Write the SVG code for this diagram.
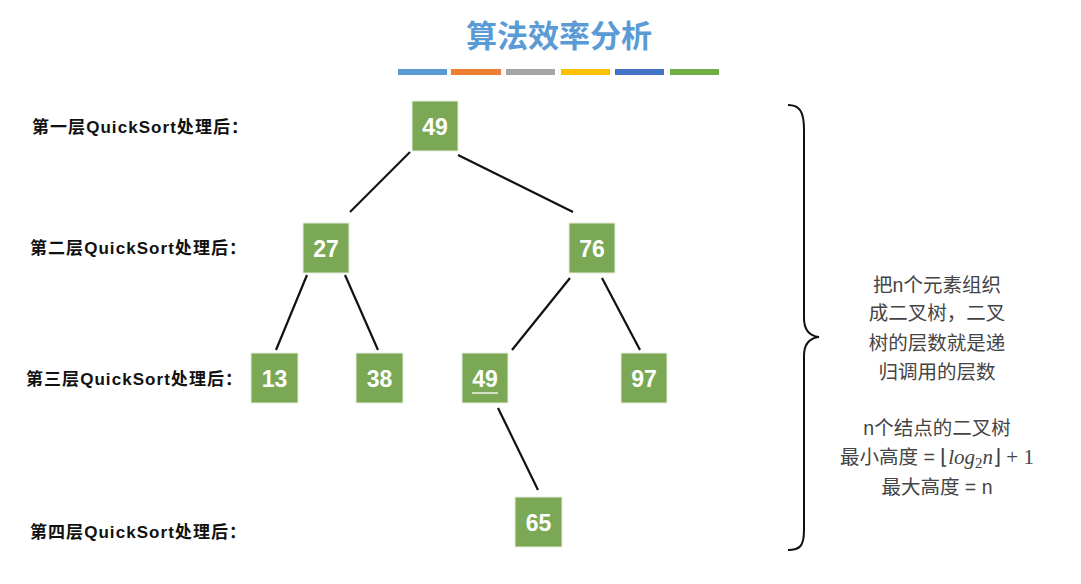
<svg xmlns="http://www.w3.org/2000/svg" width="1081" height="584" viewBox="0 0 1081 584">
<style>
.node rect{fill:#7BA854;stroke:#E6EEDD;stroke-width:1}
.node text{fill:#fff;font-family:"Liberation Sans","Noto Sans CJK SC",sans-serif;font-size:23px;font-weight:bold;text-anchor:middle}
.lvl{font-family:"Liberation Sans","Noto Sans CJK SC",sans-serif;font-size:17px;font-weight:bold;fill:#111}
.note{font-family:"Liberation Sans","Noto Sans CJK SC",sans-serif;font-size:19.5px;fill:#444;text-anchor:middle}
.edge{stroke:#111;stroke-width:2.2;fill:none}
</style>
<rect width="1081" height="584" fill="#fff"/>
<text x="559" y="47" font-family="'Noto Sans CJK SC',sans-serif" font-size="31" font-weight="bold" fill="#5B9BD5" text-anchor="middle">算法效率分析</text>
<g id="bars">
<rect x="398" y="69" width="49" height="6" fill="#5B9BD5"/>
<rect x="451" y="69" width="50" height="6" fill="#ED7D31"/>
<rect x="506" y="69" width="49" height="6" fill="#A5A5A5"/>
<rect x="561" y="69" width="49" height="6" fill="#FFC000"/>
<rect x="615" y="69" width="49" height="6" fill="#4472C4"/>
<rect x="670" y="69" width="49" height="6" fill="#70AD47"/>
</g>
<g id="labels">
<text class="lvl" x="32" y="133" textLength="216" lengthAdjust="spacing">第一层QuickSort处理后：</text>
<text class="lvl" x="30" y="254" textLength="216" lengthAdjust="spacing">第二层QuickSort处理后：</text>
<text class="lvl" x="26" y="385" textLength="216" lengthAdjust="spacing">第三层QuickSort处理后：</text>
<text class="lvl" x="30" y="538" textLength="216" lengthAdjust="spacing">第四层QuickSort处理后：</text>
</g>
<g id="connectors">
<line class="edge" x1="410" y1="152" x2="350" y2="212"/>
<line class="edge" x1="458" y1="155" x2="573" y2="212"/>
<line class="edge" x1="307" y1="275" x2="276" y2="350"/>
<line class="edge" x1="345" y1="275" x2="378" y2="350"/>
<line class="edge" x1="570" y1="278" x2="512" y2="350"/>
<line class="edge" x1="602" y1="278" x2="640" y2="350"/>
<line class="edge" x1="498" y1="408" x2="538" y2="490"/>
</g>
<g id="n49a" class="node"><rect x="412" y="101" width="46" height="50"/><text x="435" y="134.5">49</text></g>
<g id="n27" class="node"><rect x="303" y="223" width="46" height="50"/><text x="326" y="256.5">27</text></g>
<g id="n76" class="node"><rect x="569" y="223" width="46" height="50"/><text x="592" y="256.5">76</text></g>
<g id="n13" class="node"><rect x="251" y="353" width="47" height="50"/><text x="274.5" y="386.5">13</text></g>
<g id="n38" class="node"><rect x="356" y="353" width="47" height="50"/><text x="379.5" y="386.5">38</text></g>
<g id="n49b" class="node"><rect x="462" y="353" width="46" height="50"/><text x="485" y="386.5">49</text><line x1="472" y1="393" x2="498" y2="393" stroke="#fff" stroke-width="1.3"/></g>
<g id="n97" class="node"><rect x="621" y="353" width="46" height="50"/><text x="644" y="386.5">97</text></g>
<g id="n65" class="node"><rect x="515" y="497" width="47" height="50"/><text x="538.5" y="530.5">65</text></g>
<g id="brace">
<path d="M788,105 C800,105 804,112 804,130 L804,318 C804,330 810,336 819,337 C810,338 804,344 804,356 L804,530 C804,546 800,550 788,550" fill="none" stroke="#111" stroke-width="2"/>
</g>
<g id="notes">
<text class="note" x="937" y="292">把n个元素组织</text>
<text class="note" x="937" y="320">成二叉树，二叉</text>
<text class="note" x="937" y="350">树的层数就是递</text>
<text class="note" x="937" y="379">归调用的层数</text>
<text class="note" x="937" y="435">n个结点的二叉树</text>
<text class="note" x="937" y="464">最小高度 = <tspan font-family="'Liberation Serif',serif" font-size="21">⌊<tspan font-style="italic">log</tspan><tspan font-size="15" dy="4">2</tspan><tspan font-style="italic" dy="-4">n</tspan>⌋ + 1</tspan></text>
<text class="note" x="937" y="494">最大高度 = n</text>
</g>
</svg>
